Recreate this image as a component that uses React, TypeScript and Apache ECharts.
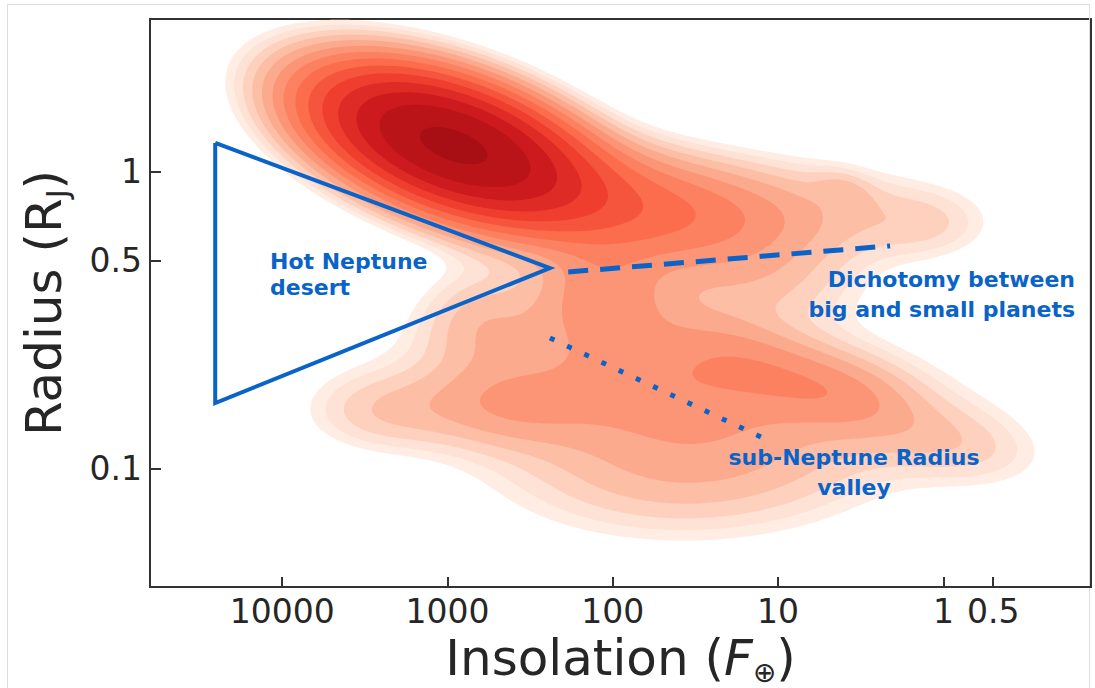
import React, { useEffect, useRef } from "react";
import * as echarts from "echarts";

// Smoothed planet density, described as Gaussian components in log10 space
// (log10 insolation, log10 radius), with peak heights in arbitrary units.
const COMP_LOG_FLUX = [2.972, 1.774, 0.866, 0.594, 0.08, 1.592, 1.157, 2.076, 2.621, 0.563, 3.407, -0.102, 1.592, 2.076, 2.802, 1.108, 1.774];
const COMP_LOG_RADIUS = [0.09, -0.129, -0.129, -0.062, -0.18, -0.736, -0.645, -0.5, -0.787, -0.753, -0.81, -0.921, -1.02, -0.382, -0.5, -0.382, -0.702];
const COMP_SIG_FLUX = [0.491, 0.54, 0.67, 0.12, 0.25, 1.03, 0.405, 0.3, 0.36, 0.3, 0.33, 0.36, 0.75, 0.27, 0.25, 0.42, 0.4];
const COMP_SIG_RADIUS = [0.151, 0.135, 0.12, 0.045, 0.08, 0.185, 0.116, 0.1, 0.094, 0.09, 0.094, 0.1, 0.16, 0.1, 0.12, 0.1, 0.12];
const COMP_RHO = [0.5, 0.3, 0.1, 0.3, 0.0, 0.2, 0.53, 0.0, 0.0, 0.3, 0.0, 0.3, 0.0, 0.0, 0.0, 0.0, 0.3];
const COMP_HEIGHT = [1.0, 0.13, 0.045, 0.02, 0.02, 0.065, 0.055, 0.035, 0.05, 0.04, 0.035, 0.03, 0.05, 0.06, 0.04, 0.03, 0.03];

// Contour levels as fractions of the peak density
const LEVELS = [0.02, 0.027, 0.036, 0.048, 0.064, 0.086, 0.115, 0.154, 0.207, 0.277, 0.371, 0.497, 0.666, 0.92];

// Axes
const X_RANGE = [0.128, 63000];
const Y_RANGE = [0.0398, 3.27];
const X_TICKS = [10000, 1000, 100, 10, 1, 0.5];
const Y_TICKS = [1, 0.5, 0.1];

// Annotation shapes (insolation, radius)
const DESERT_FLUX = [25400, 25400, 240, 25400];
const DESERT_RADIUS = [1.25, 0.166, 0.473, 1.25];
const DICHOTOMY_FLUX = [186, 2.1];
const DICHOTOMY_RADIUS = [0.459, 0.562];
const VALLEY_FLUX = [240, 12.3];
const VALLEY_RADIUS = [0.275, 0.1265];

const REDS = ["#fff5f0", "#fee0d2", "#fcbba1", "#fc9272", "#fb6a4a", "#ef3b2c", "#cb181d", "#a50f15", "#67000d"];
const BLUE = "#0a63c9";
const INK = "#262626";
const FONT = "DejaVu Sans";

function redsAt(t: number): string {
  const x = Math.min(1, Math.max(0, t)) * (REDS.length - 1);
  const i = Math.min(REDS.length - 2, Math.floor(x));
  const f = x - i;
  const a = REDS[i], b = REDS[i + 1];
  const ch = (s: string, k: number) => parseInt(s.slice(1 + 2 * k, 3 + 2 * k), 16);
  const out = [0, 1, 2].map((k) => Math.round(ch(a, k) + (ch(b, k) - ch(a, k)) * f));
  return `rgb(${out[0]},${out[1]},${out[2]})`;
}

type Ring = { band: number; pts: number[][] };

function buildContours(): Ring[] {
  const u0 = -1.6, u1 = 5.6, v0 = -1.9, v1 = 0.9, du = 0.02, dv = 0.01;
  const nx = Math.round((u1 - u0) / du) + 1;
  const ny = Math.round((v1 - v0) / dv) + 1;
  const g = new Float64Array(nx * ny);
  let max = 0;
  for (let j = 0; j < ny; j++) {
    const v = v0 + j * dv;
    for (let i = 0; i < nx; i++) {
      const u = u0 + i * du;
      let s = 0;
      for (let c = 0; c < COMP_HEIGHT.length; c++) {
        const zx = (u - COMP_LOG_FLUX[c]) / COMP_SIG_FLUX[c];
        const zy = (v - COMP_LOG_RADIUS[c]) / COMP_SIG_RADIUS[c];
        const r = COMP_RHO[c];
        const q = (zx * zx - 2 * r * zx * zy + zy * zy) / (1 - r * r);
        s += COMP_HEIGHT[c] * Math.exp(-0.5 * q);
      }
      if (i === 0 || j === 0 || i === nx - 1 || j === ny - 1) s = 0;
      g[j * nx + i] = s;
      if (s > max) max = s;
    }
  }
  for (let k = 0; k < g.length; k++) g[k] /= max;

  const nH = nx * ny;
  const rings: Ring[] = [];
  LEVELS.forEach((L, band) => {
    const adj0 = new Int32Array(2 * nH).fill(-1);
    const adj1 = new Int32Array(2 * nH).fill(-1);
    const link = (a: number, b: number) => {
      if (adj0[a] < 0) adj0[a] = b; else adj1[a] = b;
      if (adj0[b] < 0) adj0[b] = a; else adj1[b] = a;
    };
    for (let j = 0; j < ny - 1; j++) {
      for (let i = 0; i < nx - 1; i++) {
        const a = g[j * nx + i], b = g[j * nx + i + 1];
        const c = g[(j + 1) * nx + i + 1], d = g[(j + 1) * nx + i];
        const idx = (a > L ? 1 : 0) | (b > L ? 2 : 0) | (c > L ? 4 : 0) | (d > L ? 8 : 0);
        if (idx === 0 || idx === 15) continue;
        const e0 = j * nx + i;
        const e1 = nH + j * nx + i + 1;
        const e2 = (j + 1) * nx + i;
        const e3 = nH + j * nx + i;
        switch (idx) {
          case 1: case 14: link(e3, e0); break;
          case 2: case 13: link(e0, e1); break;
          case 3: case 12: link(e3, e1); break;
          case 4: case 11: link(e1, e2); break;
          case 6: case 9: link(e0, e2); break;
          case 7: case 8: link(e3, e2); break;
          case 5: {
            const m = (a + b + c + d) / 4;
            if (m > L) { link(e3, e2); link(e0, e1); } else { link(e3, e0); link(e1, e2); }
            break;
          }
          case 10: {
            const m = (a + b + c + d) / 4;
            if (m > L) { link(e0, e3); link(e1, e2); } else { link(e0, e1); link(e2, e3); }
            break;
          }
        }
      }
    }
    const pt = (id: number): number[] => {
      if (id < nH) {
        const j = Math.floor(id / nx), i = id - j * nx;
        const a = g[id], b = g[id + 1];
        const t = (L - a) / (b - a);
        return [u0 + (i + t) * du, v0 + j * dv];
      }
      const k = id - nH;
      const j = Math.floor(k / nx), i = k - j * nx;
      const a = g[k], b = g[k + nx];
      const t = (L - a) / (b - a);
      return [u0 + i * du, v0 + (j + t) * dv];
    };
    const seen = new Uint8Array(2 * nH);
    for (let id = 0; id < 2 * nH; id++) {
      if (adj0[id] < 0 || seen[id]) continue;
      const pts: number[][] = [];
      let cur = id;
      while (cur >= 0) {
        seen[cur] = 1;
        pts.push(pt(cur));
        const n0 = adj0[cur], n1 = adj1[cur];
        cur = n0 >= 0 && !seen[n0] ? n0 : n1 >= 0 && !seen[n1] ? n1 : -1;
      }
      if (pts.length > 2) rings.push({ band, pts });
    }
  });
  return rings;
}

const lg = (x: number) => Math.log10(x);
const pairs = (fx: number[], ry: number[]) => fx.map((f, i) => [lg(f), lg(ry[i])]);

function tickText(ticks: number[], val: number): string {
  const hit = ticks.find((t) => Math.abs(lg(t) - val) < 1e-6);
  return hit === undefined ? "" : String(hit);
}

export default function App() {
  const ref = useRef<HTMLDivElement>(null);
  useEffect(() => {
    if (!ref.current) return;
    const chart = echarts.init(ref.current, undefined, { renderer: "svg" });
    const rings = buildContours();
    const bandColors = LEVELS.map((_, k) => redsAt(0.05 + (k * 0.82) / (LEVELS.length - 1)));

    const annotation = (name: string, fx: number[], ry: number[], width: number, type: any) => ({
      name,
      type: "line",
      data: pairs(fx, ry),
      symbol: "none",
      silent: true,
      z: 5,
      lineStyle: { color: BLUE, width, type, cap: "butt", join: "miter", miterLimit: 20 },
    });

    const note = (text: string, x: number, y: number, align: string) => ({
      type: "text",
      x,
      y,
      silent: true,
      z: 10,
      style: {
        text,
        fill: BLUE,
        fontSize: 22,
        fontWeight: "bold",
        fontFamily: FONT,
        align,
        verticalAlign: "middle",
        textAlign: align,
        textVerticalAlign: "middle",
      },
    });

    chart.setOption({
      animation: false,
      backgroundColor: "#ffffff",
      grid: {
        left: 150,
        right: 4,
        top: 19,
        bottom: 101,
        containLabel: false,
        outerBoundsMode: "none",
        show: true,
        borderColor: "#333333",
        borderWidth: 2,
        backgroundColor: "transparent",
      },
      xAxis: {
        type: "value",
        inverse: true,
        min: lg(X_RANGE[0]),
        max: lg(X_RANGE[1]),
        name: "Insolation ({it|F}{sub|⊕})",
        nameLocation: "middle",
        nameGap: 43,
        nameMoveOverlap: false,
        nameTextStyle: {
          fontSize: 50,
          fontFamily: FONT,
          color: INK,
          lineHeight: 56,
          rich: {
            it: { fontSize: 50, fontFamily: FONT, fontStyle: "italic", color: INK, lineHeight: 56 },
            sub: { fontSize: 28, fontFamily: FONT, color: INK, lineHeight: 22, verticalAlign: "bottom" },
          },
        },
        axisLine: { show: true, onZero: false, lineStyle: { color: "#333333", width: 2 } },
        axisTick: {
          show: true,
          inside: true,
          length: 10,
          lineStyle: { color: "#333333", width: 2 },
          customValues: X_TICKS.map(lg),
        },
        axisLabel: {
          fontSize: 33,
          fontFamily: FONT,
          color: INK,
          margin: 8,
          customValues: X_TICKS.map(lg),
          formatter: (val: number) => tickText(X_TICKS, val),
        },
        splitLine: { show: false },
      },
      yAxis: {
        type: "value",
        min: lg(Y_RANGE[0]),
        max: lg(Y_RANGE[1]),
        name: "Radius (R{sub|J})",
        nameLocation: "middle",
        nameGap: 78,
        nameTextStyle: {
          fontSize: 50,
          fontFamily: FONT,
          color: INK,
          lineHeight: 56,
          rich: {
            sub: { fontSize: 30, fontFamily: FONT, color: INK, lineHeight: 20, verticalAlign: "bottom" },
          },
        },
        axisLine: { show: true, onZero: false, lineStyle: { color: "#333333", width: 2 } },
        axisTick: {
          show: true,
          inside: true,
          length: 11,
          lineStyle: { color: "#333333", width: 2 },
          customValues: Y_TICKS.map(lg),
        },
        axisLabel: {
          fontSize: 33,
          fontFamily: FONT,
          color: INK,
          margin: 8,
          customValues: Y_TICKS.map(lg),
          formatter: (val: number) => tickText(Y_TICKS, val),
        },
        splitLine: { show: false },
      },
      series: [
        {
          name: "density",
          type: "custom",
          silent: true,
          clip: true,
          data: [[1, 0]],
          renderItem: (params: any, api: any) => {
            const cs = params.coordSys;
            return {
              type: "group",
              clipPath: { type: "rect", shape: { x: cs.x, y: cs.y, width: cs.width, height: cs.height } },
              children: rings.map((r) => ({
                type: "polygon",
                shape: { points: r.pts.map((p) => api.coord(p)) },
                style: { fill: bandColors[r.band], stroke: "none" },
              })),
            };
          },
        },
        annotation("Hot Neptune desert", DESERT_FLUX, DESERT_RADIUS, 4, "solid"),
        annotation("Dichotomy", DICHOTOMY_FLUX, DICHOTOMY_RADIUS, 5, [20, 12]),
        annotation("Radius valley", VALLEY_FLUX, VALLEY_RADIUS, 5, [5, 14]),
      ],
      graphic: [
        {
          type: "rect",
          silent: true,
          shape: { x: 7.5, y: 4.5, width: 1082, height: 700 },
          style: { fill: "none", stroke: "#dddddd", lineWidth: 1 },
        },
        note("Hot Neptune", 270, 261.5, "left"),
        note("desert", 270, 287.5, "left"),
        note("Dichotomy between", 1075, 279.5, "right"),
        note("big and small planets", 1075, 309.5, "right"),
        note("sub-Neptune Radius", 854, 457.5, "center"),
        note("valley", 854, 487.5, "center"),
      ],
    });
    return () => chart.dispose();
  }, []);
  return (
    <div
      ref={ref}
      style={{ position: "fixed", left: 0, top: 0, width: 1095, height: 688, background: "#ffffff" }}
    />
  );
}
